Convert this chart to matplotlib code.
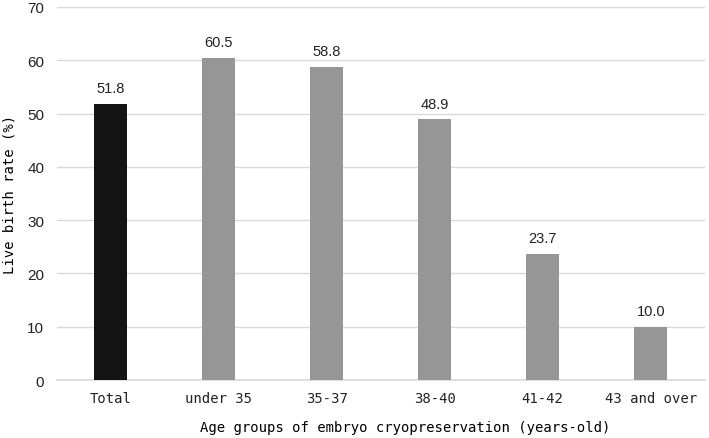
import matplotlib
matplotlib.use("Agg")
import matplotlib.pyplot as plt
import numpy as np

categories = ["Total", "under 35", "35-37", "38-40", "41-42", "43 and over"]
rates = [51.8, 60.5, 58.8, 48.9, 23.7, 10.0]
bar_colors = ["#141414", "#969696", "#969696", "#969696", "#969696", "#969696"]
yticks = [0, 10, 20, 30, 40, 50, 60, 70]

mono = "DejaVu Sans Mono"
sans = "Liberation Sans"

fig = plt.figure(figsize=(7.09, 4.39), dpi=100)
ax = fig.add_axes([0.080, 0.132, 0.914, 0.850])

x = np.arange(len(categories))
bars = ax.bar(x, rates, width=0.31, color=bar_colors, zorder=3)

# value labels above bars
for xi, v in zip(x, rates):
    ax.text(xi, v + 1.6, "%.1f" % v, ha="center", va="bottom",
            fontsize=10.5, family=sans, color="#222222")

ax.set_xlim(-0.5, len(categories) - 0.5)
ax.set_ylim(0, 70)
ax.set_yticks(yticks)
ax.set_yticklabels([str(t) for t in yticks], family=sans, fontsize=11)
ax.set_xticks(x)
ax.set_xticklabels(categories, family=mono, fontsize=10)

ax.grid(axis="y", color="#d9d9d9", linewidth=1, zorder=0)
for s in ["top", "right", "left"]:
    ax.spines[s].set_visible(False)
ax.spines["bottom"].set_color("#d9d9d9")
ax.spines["bottom"].set_linewidth(1.2)
ax.tick_params(axis="x", length=0, pad=8, colors="#222222")
ax.tick_params(axis="y", length=0, pad=9, colors="#222222")

ax.set_xlabel("Age groups of embryo cryopreservation (years-old)",
              family=mono, fontsize=10, labelpad=11, x=0.537)
ax.set_ylabel("Live birth rate (%)", family=mono, fontsize=10, labelpad=8)

fig.savefig("out.png", dpi=100)
